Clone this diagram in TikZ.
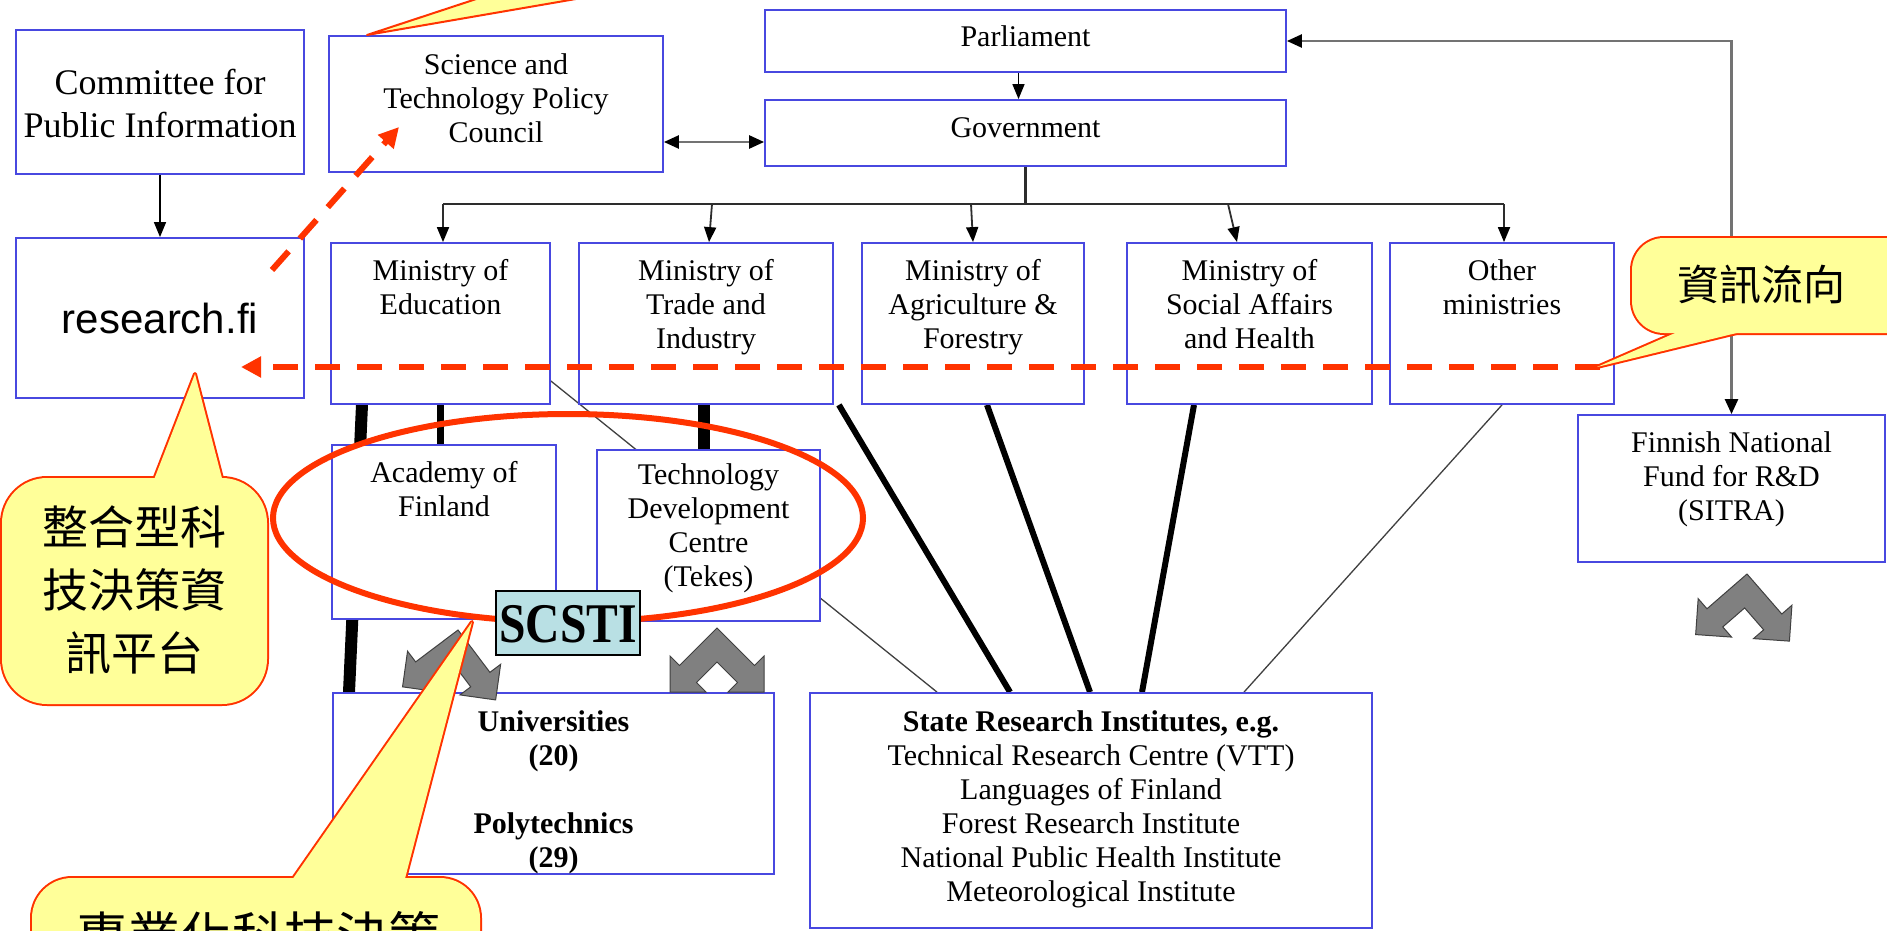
\documentclass[tikz,border=0pt]{standalone}
\usepackage{fontspec}
\usepackage{graphicx}
\setmainfont{Liberation Serif}
\newfontfamily\sansf{Liberation Sans}
\newfontfamily\cjk{Noto Sans CJK TC}
\usetikzlibrary{arrows.meta}
\pgfdeclarelayer{bgzero}
\pgfdeclarelayer{lines}
\pgfsetlayers{bgzero,lines,main}
\definecolor{boxblue}{RGB}{72,72,224}
\definecolor{calred}{RGB}{255,51,0}
\definecolor{calyel}{RGB}{255,255,153}
\definecolor{scfill}{RGB}{185,224,228}
\definecolor{chevgray}{RGB}{128,128,128}
\definecolor{linegray}{RGB}{115,115,115}
\definecolor{busgray}{RGB}{45,45,45}
\tikzset{chev/.pic={\filldraw[fill=chevgray, draw=black!75, line width=1pt]
  (0,0) -- (37.5,37.5) -- (47,28) -- (47,64) -- (11,64) -- (20.5,54.5) -- (0,34)
  -- (-20.5,54.5) -- (-11,64) -- (-47,64) -- (-47,28) -- (-37.5,37.5) -- cycle;}}
\begin{document}
\begin{tikzpicture}[x=1pt,y=-1pt,
  ubox/.style={draw=boxblue, line width=1.8pt, fill=white, inner sep=0pt},
  txt/.style={font=\fontsize{30}{34}\selectfont, align=center, inner sep=0pt},
  btxt/.style={font=\bfseries\fontsize{30}{34}\selectfont, align=center, inner sep=0pt},
  ctxt/.style={font=\fontsize{36}{43}\selectfont, align=center, inner sep=0pt},
  arrk/.style={black, line width=1.5pt, -{Triangle[length=15pt,width=12pt]}},
  darr/.style={linegray, line width=2.5pt, {Triangle[length=15pt,width=13pt,color=black]}-{Triangle[length=15pt,width=13pt,color=black]}},
  busline/.style={busgray, line width=2.2pt},
  barr/.style={busgray, line width=1.8pt, -{Triangle[length=15pt,width=12pt,color=black]}},
  thick1/.style={black, line width=6pt},
  thin1/.style={black!75, line width=1.3pt},
  flow/.style={calred, line width=6pt, dash pattern=on 25pt off 17pt, -{Triangle[length=20pt,width=20pt]}},
  cstroke/.style={calred, line width=4pt, line join=round},
  cjktxt/.style={font=\cjk\fontsize{46}{63}\selectfont, align=center, inner sep=0pt}
]
\useasboundingbox (0,0) rectangle (1887,931);
\begin{pgfonlayer}{bgzero}
\fill[white] (0,0) rectangle (1887,931);
\end{pgfonlayer}
\clip (0,0) rectangle (1887,931);

% ---------- boxes ----------
\node[ubox,minimum width=288pt,minimum height=144pt] (comm) at (160,102) {};
\node[ubox,minimum width=288pt,minimum height=160pt] (res) at (160,318) {};
\node[ubox,minimum width=334pt,minimum height=136pt] (sci) at (496,104) {};
\node[ubox,minimum width=521pt,minimum height=62pt] (parl) at (1025.5,41) {};
\node[ubox,minimum width=521pt,minimum height=66pt] (gov) at (1025.5,133) {};
\node[ubox,minimum width=219pt,minimum height=161pt] (edu) at (440.5,323.5) {};
\node[ubox,minimum width=254pt,minimum height=161pt] (trade) at (706,323.5) {};
\node[ubox,minimum width=222pt,minimum height=161pt] (agri) at (973,323.5) {};
\node[ubox,minimum width=245pt,minimum height=161pt] (soc) at (1249.5,323.5) {};
\node[ubox,minimum width=224pt,minimum height=161pt] (oth) at (1502,323.5) {};
\node[ubox,minimum width=224pt,minimum height=174pt] (acad) at (444,532) {};
\node[ubox,minimum width=223pt,minimum height=171pt] (tekes) at (708.5,535.5) {};
\node[ubox,minimum width=441pt,minimum height=181pt] (univ) at (553.5,783.5) {};
\node[ubox,minimum width=562pt,minimum height=235pt] (state) at (1091,810.5) {};
\node[ubox,minimum width=307pt,minimum height=147pt] (sitra) at (1731.5,488.5) {};

% ---------- connectors (behind boxes) ----------
\begin{pgfonlayer}{lines}
\draw[arrk] (comm.south) -- (res.north);
\draw[arrk] ([xshift=-7pt]parl.south) -- ([xshift=-7pt]gov.north);
\draw[darr] ([yshift=-38pt]sci.east) -- ([yshift=-9pt]gov.west);
\draw[darr] (parl.east) -| (sitra.north);
\coordinate (busL) at (443,204);
\coordinate (busR) at (1504,204);
\coordinate (busT) at (712,204);
\coordinate (busA) at (971,204);
\coordinate (busS) at (1228,204);
\draw[busline] (gov.south) -- (gov.south |- busL);
\draw[busline] (busL) -- (busR);
\draw[barr] (busL) -- (edu.north -| busL);
\draw[barr] (busT) -- ([xshift=3pt]trade.north);
\draw[barr] (busA) -- (agri.north);
\draw[barr] (busS) -- ([xshift=-12.5pt]soc.north);
\draw[barr] (busR) -- (busR |- oth.north);
% thick links
\draw[black, line width=12pt] ([xshift=-78.5pt]edu.south) -- ([xshift=-204.5pt]univ.north);
\draw[black, line width=7pt] (edu.south) -- (edu.south |- acad.north);
\draw[black, line width=12pt] ([xshift=-2pt]trade.south) -- ([xshift=-2pt]trade.south |- tekes.north);
\draw[thick1] ([xshift=5pt]trade.south east) -- ([xshift=-81pt]state.north);
\draw[thick1] ([xshift=14pt]agri.south) -- ([xshift=-1pt]state.north);
\draw[thick1] ([xshift=-55.5pt]soc.south) -- ([xshift=51pt]state.north);
\draw[thin1] (oth.south) -- ([xshift=153pt]state.north);
\draw[thin1] ([yshift=-57.5pt]edu.east) -- ([xshift=-154pt]state.north);
\end{pgfonlayer}

% ---------- texts ----------
\node[ctxt,anchor=north] (commT) at (160,63.9) {\strut Committee for\\\strut Public Information};
\node[font=\sansf\fontsize{42}{48}\selectfont, anchor=base, inner sep=0pt] (resT) at (160,333) {research.fi};
\node[txt,anchor=north] (sciT) at (496,50.2) {\strut Science and\\\strut Technology Policy\\\strut Council};
\node[txt,anchor=base] (parlT) at (1025.5,47) {Parliament};
\node[txt,anchor=base] (govT) at (1025.5,138) {Government};
\node[txt,anchor=north] (eduT) at (440.5,256.2) {\strut Ministry of\\\strut Education};
\node[txt,anchor=north] (tradeT) at (706,256.2) {\strut Ministry of\\\strut Trade and\\\strut Industry};
\node[txt,anchor=north] (agriT) at (973,256.2) {\strut Ministry of\\\strut Agriculture \&\\\strut Forestry};
\node[txt,anchor=north] (socT) at (1249.5,256.2) {\strut Ministry of\\\strut Social Affairs\\\strut and Health};
\node[txt,anchor=north] (othT) at (1502,256.2) {\strut Other\\\strut ministries};
\node[txt,anchor=north] (acadT) at (444,458.2) {\strut Academy of\\\strut Finland};
\node[txt,anchor=north] (tekesT) at (708.5,460.2) {\strut Technology\\\strut Development\\\strut Centre\\\strut (Tekes)};
\node[btxt,anchor=north] (univT) at (553.5,707.2) {\strut Universities\\\strut (20)\\\strut\\\strut Polytechnics\\\strut (29)};
\node[txt,anchor=north] (stateT) at (1091,707.2) {\textbf{\strut State Research Institutes, e.g.}\\\strut Technical Research Centre (VTT)\\\strut Languages of Finland\\\strut Forest Research Institute\\\strut National Public Health Institute\\\strut Meteorological Institute};
\node[txt,anchor=north] (sitraT) at (1731.5,428.2) {\strut Finnish National\\\strut Fund for R\&D\\\strut (SITRA)};

% ---------- grey double arrows ----------
\pic[rotate=-8] (chevA) at (458,630) {chev};
\pic (chevB) at (717,628) {chev};
\pic[rotate=-4] (chevC) at (1747,574) {chev};

% ---------- red ellipse and SCSTI ----------
\draw[calred, line width=6pt] (568,518) ellipse [x radius=295, y radius=104];
\node[draw=black, line width=1.6pt, fill=scfill, minimum width=144pt, minimum height=64pt, inner sep=0pt] (scsti) at (568,623) {};
\node[font=\bfseries\fontsize{56}{60}\selectfont, anchor=base, inner sep=0pt] (scstiT) at (568,642) {\scalebox{0.85}[1]{SCSTI}};

% ---------- information-flow arrows ----------
\coordinate (flowS) at (1600,367);
\coordinate (flowE) at (241,367);
\coordinate (diagS) at (272,270);
\coordinate (diagE) at (399,127);
\draw[flow] (flowS) -- (flowE);
\draw[flow] (diagS) -- (diagE);

% ---------- callouts ----------
% top (pointer only visible)
\filldraw[fill=calyel, draw=calred, line width=2pt, line join=round] (367,35) -- (534,-20) -- (686,-20) -- cycle;
% left callout
\draw[cstroke, rounded corners=45pt] (2,478) rectangle (267,704);
\draw[cstroke] (195,374) -- (150,490) -- (225,490) -- cycle;
\fill[calyel, rounded corners=45pt] (2,478) rectangle (267,704);
\fill[calyel] (195,374) -- (150,490) -- (225,490) -- cycle;
\node[cjktxt, anchor=north] (platT) at (134,500) {\strut 整合型科\\\strut 技決策資\\\strut 訊平台};
% right callout
\draw[cstroke, rounded corners=32pt] (1632,238) rectangle (1960,333);
\draw[cstroke] (1597,367) -- (1705,320) -- (1790,320) -- cycle;
\fill[calyel, rounded corners=32pt] (1632,238) rectangle (1960,333);
\fill[calyel] (1597,367) -- (1705,320) -- (1790,320) -- cycle;
\node[font=\cjk\fontsize{42}{50}\selectfont, anchor=base, inner sep=0pt] (flowT) at (1761,300) {資訊流向};
% bottom callout
\draw[cstroke, rounded corners=40pt] (32,878) rectangle (480,1010);
\draw[cstroke] (472,622) -- (285,890) -- (402,890) -- cycle;
\fill[calyel, rounded corners=40pt] (32,878) rectangle (480,1010);
\fill[calyel] (472,622) -- (285,890) -- (402,890) -- cycle;
\node[font=\cjk\fontsize{52}{60}\selectfont, anchor=base, inner sep=0pt] (proT) at (258,955) {專業化科技決策};
\end{tikzpicture}
\end{document}
